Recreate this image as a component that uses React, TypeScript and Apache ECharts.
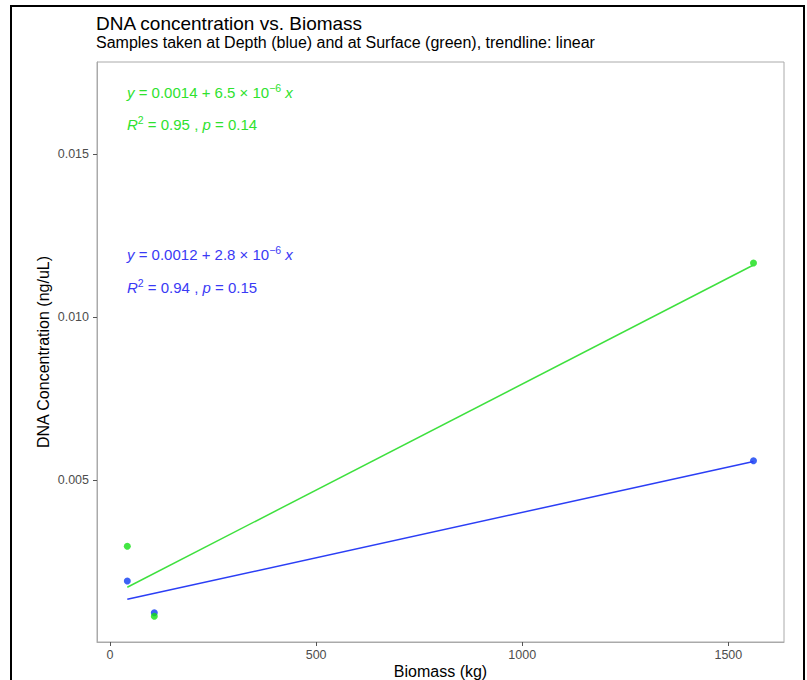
import React, { useEffect, useRef } from "react";
import * as echarts from "echarts";

// ---- data ----
const depthX = [42, 107.5, 1561];
const depthY = [0.0019, 0.000925, 0.00559];
const surfaceX = [42, 107.5, 1561];
const surfaceY = [0.00297, 0.00082, 0.01166];
const depthTrendX = [42, 1561];
const depthTrendY = [0.00134, 0.00557];
const surfaceTrendX = [42, 1561];
const surfaceTrendY = [0.00171, 0.0116];
const xTicks = [0, 500, 1000, 1500];
const yTicks = [0.005, 0.01, 0.015];

const titleText = "DNA concentration vs. Biomass";
const subtitleText = "Samples taken at Depth (blue) and at Surface (green), trendline: linear";
const surfaceEq = "{i|y} = 0.0014 + 6.5 × 10{s|−6} {i|x}";
const surfaceR2 = "{i|R}{s|2} = 0.95 , {i|p} = 0.14";
const depthEq = "{i|y} = 0.0012 + 2.8 × 10{s|−6} {i|x}";
const depthR2 = "{i|R}{s|2} = 0.94 , {i|p} = 0.15";

const FONT = "'Liberation Sans', Arial, Helvetica, sans-serif";
const BLUE_PT = "#0d3bf2";
const BLUE_LN = "#2b3ef5";
const BLUE_TX = "#3a3af5";
const GREEN_PT = "#14e014";
const GREEN_LN = "#3ee03e";
const GREEN_TX = "#2ee22e";

function zip(xs: number[], ys: number[]) {
  return xs.map((x, i) => [x, ys[i]]);
}

function annot(text: string, x: number, y: number, color: string) {
  return {
    type: "text",
    x,
    y,
    silent: true,
    style: {
      text,
      fill: color,
      fontSize: 15,
      fontFamily: FONT,
      verticalAlign: "top",
      lineHeight: 20,
      rich: {
        i: { fontStyle: "italic", fontSize: 15, fontFamily: FONT, lineHeight: 20, fill: color },
        s: { fontSize: 10.5, fontFamily: FONT, lineHeight: 2, verticalAlign: "top", fill: color },
      },
    },
  };
}

export default function App() {
  const ref = useRef<HTMLDivElement>(null);
  useEffect(() => {
    if (!ref.current) return;
    const chart = echarts.init(ref.current, null, { renderer: "svg" });
    chart.setOption({
      animation: false,
      backgroundColor: "#ffffff",
      grid: {
        left: 97,
        right: 23,
        top: 62,
        bottom: 38,
        show: true,
        borderColor: "#aaaaaa",
        borderWidth: 1,
        containLabel: false,
        outerBoundsMode: "none",
      },
      xAxis: {
        type: "value",
        min: -31.5,
        max: 1635,
        name: "Biomass (kg)",
        nameLocation: "middle",
        nameGap: 21,
        nameMoveOverlap: false,
        nameTextStyle: { color: "#000", fontSize: 16, fontFamily: FONT },
        axisLine: { show: true, onZero: false, lineStyle: { color: "#aaaaaa" } },
        axisTick: { show: true, length: 4, customValues: xTicks, lineStyle: { color: "#555" } },
        axisLabel: {
          customValues: xTicks,
          color: "#4d4d4d",
          fontSize: 12.5,
          fontFamily: FONT,
          margin: 6,
          formatter: (v: number) => String(v),
        },
        splitLine: { show: false },
      },
      yAxis: {
        type: "value",
        min: 0.00003,
        max: 0.01783,
        name: "DNA Concentration (ng/uL)",
        nameLocation: "middle",
        nameGap: 46,
        nameMoveOverlap: false,
        nameRotate: 90,
        nameTextStyle: { color: "#000", fontSize: 16, fontFamily: FONT },
        axisLine: { show: true, onZero: false, lineStyle: { color: "#aaaaaa" } },
        axisTick: { show: true, length: 4, customValues: yTicks, lineStyle: { color: "#555" } },
        axisLabel: {
          customValues: yTicks,
          color: "#4d4d4d",
          fontSize: 12.5,
          fontFamily: FONT,
          margin: 8,
          formatter: (v: number) => v.toFixed(3),
        },
        splitLine: { show: false },
      },
      series: [
        {
          type: "scatter",
          name: "Depth",
          data: zip(depthX, depthY),
          symbolSize: 7,
          itemStyle: { color: BLUE_PT },
          z: 2,
        },
        {
          type: "scatter",
          name: "Surface",
          data: zip(surfaceX, surfaceY),
          symbolSize: 7,
          itemStyle: { color: GREEN_PT },
          z: 3,
        },
        {
          type: "line",
          name: "Depth trend",
          data: zip(depthTrendX, depthTrendY),
          showSymbol: false,
          symbol: "none",
          lineStyle: { color: BLUE_LN, width: 1.5 },
          z: 4,
        },
        {
          type: "line",
          name: "Surface trend",
          data: zip(surfaceTrendX, surfaceTrendY),
          showSymbol: false,
          symbol: "none",
          lineStyle: { color: GREEN_LN, width: 1.5 },
          z: 4,
        },
      ],
      graphic: [
        {
          type: "rect",
          silent: true,
          shape: { x: 11, y: 6, width: 793, height: 720 },
          style: { fill: "none", stroke: "#000", lineWidth: 2 },
        },
        {
          type: "text",
          x: 96,
          y: 14,
          style: { text: titleText, fill: "#000", fontSize: 19, fontFamily: FONT, verticalAlign: "top" },
        },
        {
          type: "text",
          x: 96,
          y: 34,
          style: { text: subtitleText, fill: "#000", fontSize: 16, fontFamily: FONT, verticalAlign: "top" },
        },
        annot(surfaceEq, 127, 82, GREEN_TX),
        annot(surfaceR2, 127, 114, GREEN_TX),
        annot(depthEq, 127, 244, BLUE_TX),
        annot(depthR2, 127, 277, BLUE_TX),
      ],
    });
    return () => chart.dispose();
  }, []);
  return (
    <div
      ref={ref}
      style={{ position: "absolute", left: 0, top: 0, width: 807, height: 680, background: "#fff" }}
    />
  );
}
